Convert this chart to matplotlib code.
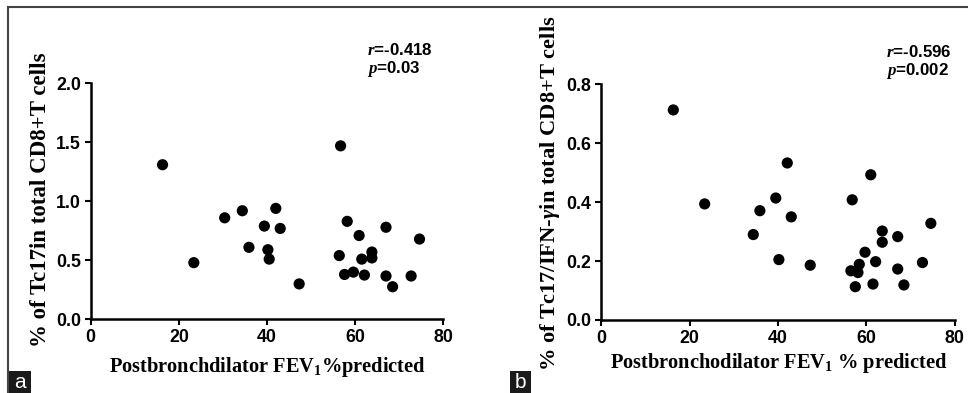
import matplotlib
matplotlib.use("Agg")
import matplotlib.pyplot as plt
from matplotlib.patches import Rectangle
from matplotlib.lines import Line2D

# ---- data ----
fev_a = [16.3, 23.4, 30.4, 34.4, 35.9, 39.4, 40.2, 40.5, 42.0, 43.0, 47.3,
         56.7, 56.4, 58.2, 57.6, 59.6, 62.1, 60.9, 61.5, 63.8, 63.8,
         67.0, 67.0, 68.5, 72.7, 74.6]
tc17_a = [1.31, 0.48, 0.86, 0.92, 0.61, 0.79, 0.59, 0.51, 0.94, 0.77, 0.30,
          1.47, 0.54, 0.83, 0.38, 0.40, 0.375, 0.71, 0.51, 0.57, 0.52,
          0.78, 0.367, 0.276, 0.367, 0.68]

fev_b = [16.3, 23.4, 34.4, 35.9, 39.5, 40.2, 42.1, 43.0, 47.3, 56.8, 61.0,
         56.5, 58.1, 57.5, 58.4, 59.7, 62.1, 61.5, 63.6, 63.6, 67.1, 67.1,
         68.5, 72.7, 74.6]
tc17ifn_b = [0.713, 0.394, 0.29, 0.371, 0.414, 0.205, 0.533, 0.35, 0.186, 0.408, 0.493,
             0.167, 0.161, 0.113, 0.189, 0.230, 0.198, 0.122, 0.302, 0.264, 0.283, 0.173,
             0.119, 0.195, 0.328]

xticks = [0, 20, 40, 60, 80]
yticks_a = [0.0, 0.5, 1.0, 1.5, 2.0]
yticks_b = [0.0, 0.2, 0.4, 0.6, 0.8]

plt.rcParams['font.family'] = 'Liberation Sans'
plt.rcParams['font.weight'] = 'bold'
plt.rcParams['mathtext.fontset'] = 'custom'
plt.rcParams['mathtext.rm'] = 'Liberation Serif:bold'
plt.rcParams['mathtext.bf'] = 'Liberation Serif:bold'
plt.rcParams['mathtext.it'] = 'Liberation Serif:bold:italic'

W, H = 968, 393
fig = plt.figure(figsize=(W / 100, H / 100), dpi=100)
fig.patch.set_facecolor('white')

def px_axes(l, r, t, b):
    return fig.add_axes([l / W, 1 - b / H, (r - l) / W, (b - t) / H])

ax_a = px_axes(90.7, 443.3, 83.3, 319.3)
ax_b = px_axes(601.3, 954.7, 84.3, 320.0)

def style(ax, yticks, ymax):
    ax.set_xlim(0, 80)
    ax.set_ylim(0, ymax)
    ax.set_xticks(xticks)
    ax.set_yticks(yticks)
    ax.set_yticklabels([f"{v:.1f}" for v in yticks])
    for s in ['top', 'right']:
        ax.spines[s].set_visible(False)
    for s in ['left', 'bottom']:
        ax.spines[s].set_linewidth(1.8)
        ax.spines[s].set_color('black')
    ax.tick_params(direction='out', length=4, width=1.5, pad=3, labelsize=12.8)
    ax.patch.set_alpha(0)

style(ax_a, yticks_a, 2.0)
style(ax_b, yticks_b, 0.8)

ax_a.scatter(fev_a, tc17_a, s=65, color='black', edgecolors='none', clip_on=False, zorder=3)
ax_b.scatter(fev_b, tc17ifn_b, s=65, color='black', edgecolors='none', clip_on=False, zorder=3)

xlab_kw = dict(fontfamily='Liberation Serif', fontweight='bold', fontsize=14.7)
ax_a.set_xlabel("Postbronchdilator FEV$_1$%predicted", **xlab_kw)
ax_a.xaxis.set_label_coords(0.50, -0.15)
ax_a.set_ylabel("% of Tc17in total CD8+T cells", fontfamily='Liberation Serif',
                fontweight='bold', fontsize=16.5)
ax_a.yaxis.set_label_coords(-0.112, 0.508)

ax_b.set_xlabel("Postbronchodilator FEV$_1$ % predicted", **xlab_kw)
ax_b.xaxis.set_label_coords(0.503, -0.13)
ax_b.set_ylabel("% of Tc17/IFN-$\\gamma$in total CD8+T cells", fontfamily='Liberation Serif',
                fontweight='bold', fontsize=16.2)
ax_b.yaxis.set_label_coords(-0.112, 0.537)

ann_kw = dict(fontfamily='Liberation Sans', fontweight='bold', fontsize=12.2,
              ha='left', va='center')
fig.text(367 / W, 1 - 50 / H, "$\\mathit{r}$=-0.418", **ann_kw)
fig.text(367 / W, 1 - 69 / H, "$\\mathit{p}$=0.03", **ann_kw)
fig.text(886 / W, 1 - 52 / H, "$\\mathit{r}$=-0.596", **ann_kw)
fig.text(886 / W, 1 - 71 / H, "$\\mathit{p}$=0.002", **ann_kw)

# frame lines
fig.add_artist(Line2D([8 / W, 1], [1 - 7 / H, 1 - 7 / H], color='#444444', lw=1.5))
fig.add_artist(Line2D([8 / W, 8 / W], [0, 1 - 7 / H], color='#444444', lw=1.5))

# panel letter boxes
for x0, x1, letter in [(8, 31, 'a'), (510, 531, 'b')]:
    fig.add_artist(Rectangle((x0 / W, 0), (x1 - x0) / W, 22 / H,
                             facecolor='#1a1a1a', edgecolor='none', transform=fig.transFigure))
    fig.text((x0 + x1) / 2 / W, 11 / H, letter, color='white', fontfamily='Liberation Sans',
             fontweight='normal', fontsize=15, ha='center', va='center')

fig.savefig('out.png', dpi=100, facecolor='white')
